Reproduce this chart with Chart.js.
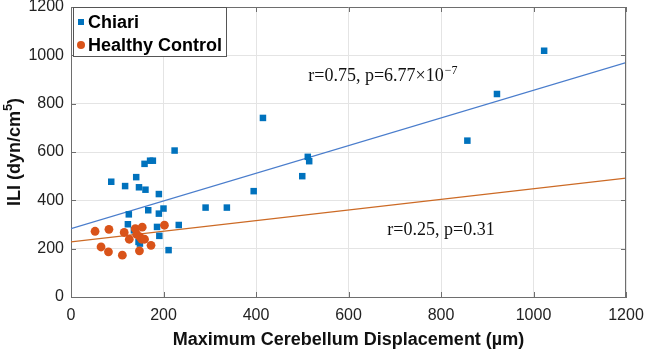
<!DOCTYPE html>
<html>
<head>
<meta charset="utf-8">
<script src="https://cdn.jsdelivr.net/npm/chart.js@4.4.1/dist/chart.umd.min.js"></script>
<style>
  body { margin: 0; background: #fff; }
  #wrap { width: 646px; height: 349px; }
</style>
</head>
<body>
<div id="wrap"><canvas id="chart1" width="646" height="349"></canvas></div>
<script>
// Chiari patients (displacement in um, ILI in dyn/cm^5)
const chiariX = [87, 117, 141, 147, 159, 171, 177, 161, 190, 224, 125, 167, 190, 200, 123, 136, 186, 191, 146, 149, 211, 233, 291, 337, 395, 415, 500, 512, 515, 857, 921, 1023];
const chiariY = [477, 459, 496, 454, 551, 564, 564, 444, 426, 606, 342, 359, 345, 366, 301, 276, 290, 253, 228, 221, 194, 298, 370, 370, 438, 741, 500, 580, 562, 647, 840, 1019];

// healthy controls
const controlX = [52, 82, 65, 81, 111, 115, 126, 139, 154, 142, 149, 153, 159, 173, 148, 202];
const controlY = [272, 280, 207, 187, 173, 267, 239, 283, 289, 259, 249, 239, 239, 214, 191, 297];

// linear fits, read at both ends of the x axis
const fitX = [0, 1200];
const chiariFitY = [283, 970];
const controlFitY = [228, 492];

const seriesNames = ['Chiari', 'Healthy Control'];
const statText = ['r=0.75, p=6.77\u00d710', 'r=0.25, p=0.31'];
const statExp = ['\u22127', ''];
const statX = [513, 684];
const statY = [915, 276];
const yTitle = ['ILI (dyn/cm', '5', ')'];

const blue = '#0072BD';
const orange = '#D95319';
const sans = '"Liberation Sans", Arial, sans-serif';
const serif = '"Liberation Serif", "Times New Roman", serif';

function pts(xs, ys) {
    return xs.map((x, i) => ({x: x, y: ys[i]}));
}

// box around the axes, inward ticks, r/p texts, y title and the legend
const matlabLook = {
    id: 'matlabLook',
    afterDatasetsDraw(chart) {
        const ctx = chart.ctx;
        const a = chart.chartArea;
        const xs = chart.scales.x, ys = chart.scales.y;
        ctx.save();
        ctx.strokeStyle = '#6e6e6e';
        ctx.lineWidth = 1;
        ctx.beginPath();
        ctx.moveTo(a.left, a.top + 0.5);
        ctx.lineTo(a.right, a.top + 0.5);
        ctx.moveTo(a.right - 0.5, a.top);
        ctx.lineTo(a.right - 0.5, a.bottom);
        xs.ticks.forEach(t => {
            const px = Math.round(xs.getPixelForValue(t.value)) + 0.5;
            ctx.moveTo(px, a.bottom); ctx.lineTo(px, a.bottom - 5);
            ctx.moveTo(px, a.top); ctx.lineTo(px, a.top + 5);
        });
        ys.ticks.forEach(t => {
            const py = Math.round(ys.getPixelForValue(t.value)) + 0.5;
            ctx.moveTo(a.left, py); ctx.lineTo(a.left + 5, py);
            ctx.moveTo(a.right, py); ctx.lineTo(a.right - 5, py);
        });
        ctx.stroke();

        // correlation texts
        ctx.fillStyle = '#111';
        ctx.textBaseline = 'middle';
        ctx.textAlign = 'left';
        statText.forEach((s, i) => {
            const px = xs.getPixelForValue(statX[i]);
            const py = ys.getPixelForValue(statY[i]);
            ctx.font = '18px ' + serif;
            ctx.fillText(s, px, py);
            if (statExp[i]) {
                const w = ctx.measureText(s).width;
                ctx.font = '12px ' + serif;
                ctx.fillText(statExp[i], px + w + 1, py - 5);
            }
        });

        // y axis title with a real superscript
        ctx.translate(15, (a.top + a.bottom) / 2);
        ctx.rotate(-Math.PI / 2);
        ctx.fillStyle = '#111';
        ctx.font = 'bold 18px ' + sans;
        const w0 = ctx.measureText(yTitle[0]).width;
        const w2 = ctx.measureText(yTitle[2]).width;
        ctx.font = 'bold 13px ' + sans;
        const w1 = ctx.measureText(yTitle[1]).width;
        let x0 = -(w0 + w1 + w2) / 2;
        ctx.font = 'bold 18px ' + sans;
        ctx.fillText(yTitle[0], x0, 0);
        ctx.font = 'bold 13px ' + sans;
        ctx.fillText(yTitle[1], x0 + w0, -7);
        ctx.font = 'bold 18px ' + sans;
        ctx.fillText(yTitle[2], x0 + w0 + w1, 0);
        ctx.restore();
    },
    afterDraw(chart) {
        const ctx = chart.ctx;
        const a = chart.chartArea;
        const bx = a.left + 2.5, by = a.top + 0.5, bw = 153, bh = 49;
        ctx.save();
        ctx.fillStyle = '#fff';
        ctx.fillRect(bx, by, bw, bh);
        ctx.strokeStyle = '#555';
        ctx.lineWidth = 1;
        ctx.strokeRect(bx, by, bw, bh);
        ctx.font = 'bold 18px ' + sans;
        ctx.textBaseline = 'middle';
        ctx.textAlign = 'left';
        const rowY = [by + 14.5, by + 37.5];
        ctx.fillStyle = blue;
        ctx.fillRect(bx + 4.5, rowY[0] - 3, 6, 6);
        ctx.fillStyle = orange;
        ctx.beginPath();
        ctx.arc(bx + 7.5, rowY[1], 4, 0, Math.PI * 2);
        ctx.fill();
        ctx.fillStyle = '#000';
        seriesNames.forEach((n, i) => ctx.fillText(n, bx + 14.5, rowY[i] + 1));
        ctx.restore();
    }
};

const ctx = document.getElementById('chart1').getContext('2d');
const chart = new Chart(ctx, {
    type: 'scatter',
    data: {
        datasets: [{
            label: seriesNames[1],
            data: pts(controlX, controlY),
            pointStyle: 'circle',
            pointRadius: 4.4,
            backgroundColor: orange,
            borderWidth: 0,
            order: 0
        }, {
            label: seriesNames[0],
            data: pts(chiariX, chiariY),
            pointStyle: 'rect',
            pointRadius: 4.6,
            backgroundColor: blue,
            borderWidth: 0,
            order: 1
        }, {
            type: 'line',
            label: 'Chiari fit',
            data: pts(fitX, chiariFitY),
            borderColor: '#4a7dcc',
            borderWidth: 1.3,
            pointRadius: 0,
            fill: false,
            order: 2
        }, {
            type: 'line',
            label: 'Control fit',
            data: pts(fitX, controlFitY),
            borderColor: '#cc6a25',
            borderWidth: 1.3,
            pointRadius: 0,
            fill: false,
            order: 3
        }]
    },
    options: {
        responsive: false,
        animation: false,
        events: [],
        layout: { padding: { top: 7, right: 20, left: 0, bottom: 0 } },
        plugins: {
            legend: { display: false },
            tooltip: { enabled: false }
        },
        scales: {
            x: {
                type: 'linear',
                min: 0, max: 1200,
                ticks: {
                    stepSize: 200,
                    color: '#222',
                    padding: 9,
                    maxRotation: 0,
                    callback: v => String(v),
                    font: { family: sans, size: 16 }
                },
                grid: { color: '#e4e4e4', drawTicks: false },
                border: { color: '#6e6e6e' },
                title: {
                    display: true,
                    text: 'Maximum Cerebellum Displacement (\u00b5m)',
                    color: '#111',
                    padding: 0,
                    font: { family: sans, size: 18, weight: 'bold', lineHeight: 1 }
                },
                afterFit(scale) {
                    scale.height = 52;
                    scale.paddingLeft = 0;
                    scale.paddingRight = 0;
                }
            },
            y: {
                min: 0, max: 1200,
                ticks: {
                    stepSize: 200,
                    color: '#222',
                    padding: 7,
                    callback: v => String(v),
                    font: { family: sans, size: 16 }
                },
                grid: { color: '#e4e4e4', drawTicks: false },
                border: { color: '#6e6e6e' },
                afterFit(scale) {
                    scale.width = 71;
                    scale.paddingTop = 0;
                    scale.paddingBottom = 0;
                }
            }
        }
    },
    plugins: [matlabLook]
});
</script>
</body>
</html>
